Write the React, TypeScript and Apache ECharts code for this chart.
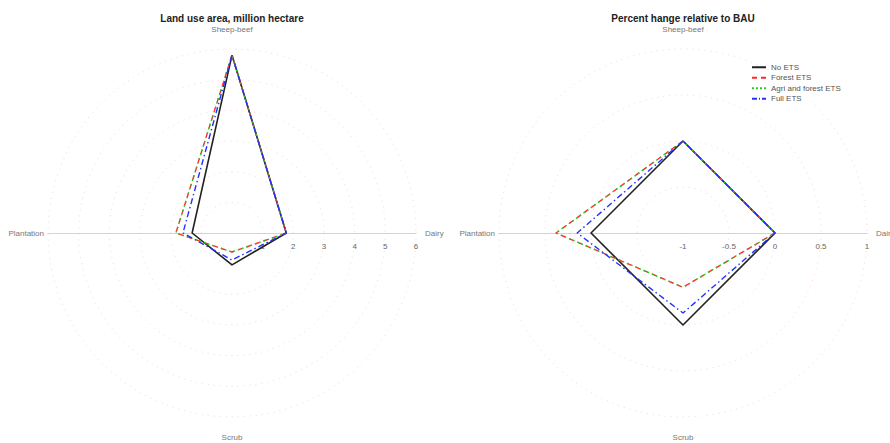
import React, { useEffect, useRef } from "react";
import * as echarts from "echarts";

// Axes (order: counter-clockwise from top)
const indicatorNames = ["Sheep-beef", "Plantation", "Scrub", "Dairy"];
const seriesNames = ["No ETS", "Forest ETS", "Agri and forest ETS", "Full ETS"];

// Land use area, million hectare
const landNoEts = [5.8, 1.3, 1.04, 1.77];
const landForest = [5.8, 1.83, 0.62, 1.77];
const landAgri = [5.8, 1.83, 0.62, 1.77];
const landFull = [5.8, 1.6, 0.88, 1.77];

// Percent change relative to BAU
const pctNoEts = [0, 0, 0, 0];
const pctForest = [0, 0.38, -0.41, 0];
const pctAgri = [0, 0.38, -0.41, 0];
const pctFull = [0, 0.15, -0.13, 0];

const seriesColors = ["#222222", "#ff2a2a", "#22cc22", "#2233ff"];
const seriesDash: any[] = ["solid", [5, 4], [1.5, 3], [6, 3, 1.5, 3]];
const legendIcons = [
  "path://M0,0 H14 V2 H0 Z",
  "path://M0,0 H5 V2 H0 Z M9,0 H14 V2 H9 Z",
  "path://M0,0 H2 V2 H0 Z M4,0 H6 V2 H4 Z M8,0 H10 V2 H8 Z M12,0 H14 V2 H12 Z",
  "path://M0,0 H5 V2 H0 Z M7,0 H8 V2 H7 Z M10,0 H14 V2 H10 Z",
];

const gridPink = "#f2bcd8";
const axisPink = "#ffaadd";
const nameGaps: Record<string, number> = { "Sheep-beef": 16, Plantation: 4, Scrub: 16, Dairy: 9 };

function buildIndicators(min: number, max: number, labelFmt: (v: number) => string) {
  return indicatorNames.map((name) => {
    const horizontal = name === "Plantation" || name === "Dairy";
    const ind: any = {
      name,
      min,
      max,
      color: "#777",
      nameGap: nameGaps[name],
      axisLine: { show: horizontal, lineStyle: { color: axisPink, width: 1, opacity: 0.8 } },
    };
    if (name === "Dairy") {
      ind.axisLabel = {
        show: true,
        color: "#666",
        fontSize: 8,
        fontFamily: "Liberation Sans, Arial",
        margin: -17,
        formatter: labelFmt,
      };
    }
    return ind;
  });
}

function radarBase(center: number[], min: number, max: number, split: number, fmt: (v: number) => string) {
  return {
    center,
    radius: 184,
    startAngle: 90,
    shape: "circle",
    splitNumber: split,
    indicator: buildIndicators(min, max, fmt),
    axisName: {
      color: "#777",
      fontSize: 8,
      fontFamily: "Liberation Sans, Arial",
    },
    nameGap: 7,
    axisLine: { show: true, lineStyle: { color: axisPink, width: 1, opacity: 0.8 } },
    splitLine: { show: true, lineStyle: { color: gridPink, type: [1, 5], width: 1, opacity: 0.7 } },
    splitArea: { show: false },
    axisTick: { show: false },
    axisLabel: { show: false },
  };
}

function seriesData(arrs: number[][]) {
  return arrs.map((vals, i) => ({
    name: seriesNames[i],
    value: vals,
    itemStyle: { color: seriesColors[i] },
    lineStyle: { color: seriesColors[i], type: seriesDash[i], width: i === 0 ? 1.6 : 1.4 },
  }));
}

export default function App() {
  const ref = useRef<HTMLDivElement>(null);
  useEffect(() => {
    if (!ref.current) return;
    const chart = echarts.init(ref.current, null, { renderer: "svg" });
    const option: any = {
      animation: false,
      backgroundColor: "#ffffff",
      title: [
        {
          text: "Land use area, million hectare",
          left: 232,
          top: 13,
          textAlign: "center",
          padding: 0,
          textStyle: { fontSize: 10, fontWeight: "bold", color: "#222", fontFamily: "Liberation Sans, Arial" },
        },
        {
          text: "Percent hange relative to BAU",
          left: 683,
          top: 13,
          textAlign: "center",
          padding: 0,
          textStyle: { fontSize: 10, fontWeight: "bold", color: "#222", fontFamily: "Liberation Sans, Arial" },
        },
      ],
      legend: {
        orient: "vertical",
        left: 752,
        top: 62,
        itemWidth: 14,
        itemHeight: 2,
        itemGap: 0,
        padding: 0,
        data: seriesNames.map((n, i) => ({ name: n, icon: legendIcons[i] })),
        textStyle: { fontSize: 8, color: "#555", lineHeight: 10.5, fontFamily: "Liberation Sans, Arial" },
      },
      radar: [
        radarBase([232, 233], 0, 6, 6, (v: number) => (v === 0 ? "" : String(v))),
        radarBase([683, 233], -1, 1, 4, (v: number) => String(v)),
      ],
      series: [
        {
          type: "radar",
          radarIndex: 0,
          symbol: "none",
          data: seriesData([landNoEts, landForest, landAgri, landFull]),
        },
        {
          type: "radar",
          radarIndex: 1,
          symbol: "none",
          data: seriesData([pctNoEts, pctForest, pctAgri, pctFull]),
        },
      ],
    };
    chart.setOption(option);
    return () => chart.dispose();
  }, []);
  return (
    <div
      ref={ref}
      style={{ position: "fixed", left: 0, top: 0, width: 890, height: 443, background: "#fff" }}
    />
  );
}
